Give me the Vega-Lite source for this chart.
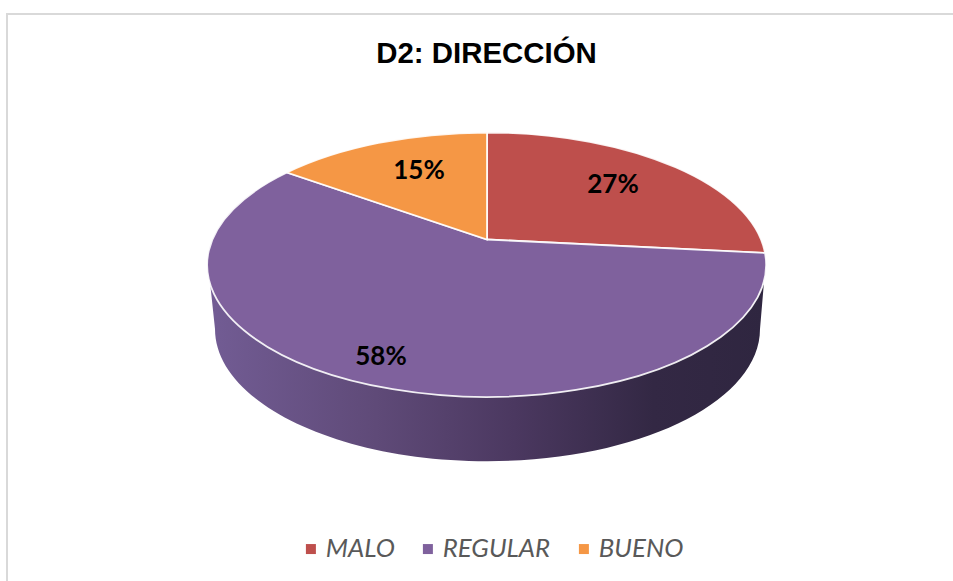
{
"$schema":"https://vega.github.io/schema/vega-lite/v6.json",
"width":953,"height":581,"autosize":"none","padding":0,"background":"white",
"config":{"view":{"stroke":null}},
"title":{"text":"D2: DIRECCIÓN","font":"Liberation Sans","fontWeight":"bold","fontSize":29.4,"color":"#000000","anchor":"middle","offset":0,"dx":10,"dy":69},
"data":{"values":[
{"category":"MALO","value":0.27},
{"category":"REGULAR","value":0.58},
{"category":"BUENO","value":0.15}
]},
"layer":[
{"data":{"values":[{"frame":"top"}]},"mark":{"type":"rule","color":"#D9D9D9","strokeWidth":2},
 "encoding":{"x":{"datum":6,"type":"quantitative","scale":{"domain":[0,953],"nice":false,"zero":false},"axis":null},"x2":{"datum":953},"y":{"datum":14,"type":"quantitative","scale":{"domain":[0,581],"reverse":true,"nice":false,"zero":false},"axis":null}}},
{"data":{"values":[{"frame":"left"}]},"mark":{"type":"rule","color":"#D9D9D9","strokeWidth":2},
 "encoding":{"x":{"datum":7,"type":"quantitative","axis":null},"y":{"datum":13,"type":"quantitative","axis":null},"y2":{"datum":581}}},
{"transform":[{"filter":"datum.category==='REGULAR'"}],
 "mark":{"type":"point","filled":true,"opacity":1,"size":4,"shape":"M-277 18L-272 65A272 132 0 0 0 273 65L277 18A279.5 132 0 0 1 -277 18Z",
  "fill":{"gradient":"linear","x1":0,"x2":1,"y1":0,"y2":0,"stops":[{"offset":0,"color":"#725C94"},{"offset":0.3,"color":"#5F4A78"},{"offset":0.55,"color":"#4B3860"},{"offset":0.8,"color":"#332844"},{"offset":1,"color":"#2F2640"}]}},
 "encoding":{"x":{"datum":487,"type":"quantitative","axis":null},"y":{"datum":264,"type":"quantitative","axis":null}}},
{"mark":{"type":"point","filled":true,"opacity":1,"size":0,"shape":"square"},
 "encoding":{
  "x":{"datum":487,"type":"quantitative","axis":null},
  "y":{"datum":264,"type":"quantitative","axis":null},
  "color":{"field":"category","type":"nominal","scale":{"domain":["MALO","REGULAR","BUENO"],"range":["#BE4F4C","#7F619D","#F59745"]},
   "legend":{"title":null,"orient":"none","legendX":298,"legendY":536,"direction":"horizontal","columns":3,"symbolType":"square","symbolSize":100,"symbolStrokeWidth":0,"labelFont":"Lato","labelFontStyle":"italic","labelFontSize":25.8,"labelColor":"#595959","labelOffset":2,"columnPadding":20,"labelLimit":200}}
 }},
{"transform":[{"filter":"datum.category==='MALO'"}],
 "mark":{"type":"point","filled":true,"opacity":1,"size":4,"stroke":"#FFFFFF","strokeWidth":1.8,"strokeOpacity":0.9,"shape":"M0 -24.5L0 -131.5A279.5 132 0 0 1 278 -11Z"},
 "encoding":{"x":{"datum":487,"type":"quantitative","axis":null},"y":{"datum":264,"type":"quantitative","axis":null},"color":{"field":"category","type":"nominal","legend":null}}},
{"transform":[{"filter":"datum.category==='REGULAR'"}],
 "mark":{"type":"point","filled":true,"opacity":1,"size":4,"stroke":"#FFFFFF","strokeWidth":1.8,"strokeOpacity":0.9,"shape":"M0 -24.5L278 -11A279.5 132 0 1 1 -200 -91.5Z"},
 "encoding":{"x":{"datum":487,"type":"quantitative","axis":null},"y":{"datum":264,"type":"quantitative","axis":null},"color":{"field":"category","type":"nominal","legend":null}}},
{"transform":[{"filter":"datum.category==='BUENO'"}],
 "mark":{"type":"point","filled":true,"opacity":1,"size":4,"stroke":"#FFFFFF","strokeWidth":1.8,"strokeOpacity":0.9,"shape":"M0 -24.5L-200 -91.5A279.5 132 0 0 1 0 -131.5Z"},
 "encoding":{"x":{"datum":487,"type":"quantitative","axis":null},"y":{"datum":264,"type":"quantitative","axis":null},"color":{"field":"category","type":"nominal","legend":null}}},
{"transform":[{"filter":"datum.category==='MALO'"}],"mark":{"type":"text","font":"Lato","fontWeight":"bold","fontSize":26,"color":"#000000","align":"center","baseline":"middle"},
 "encoding":{"x":{"datum":613,"type":"quantitative","axis":null},"y":{"datum":185,"type":"quantitative","axis":null},"text":{"field":"value","type":"quantitative","format":".0%"}}},
{"transform":[{"filter":"datum.category==='REGULAR'"}],"mark":{"type":"text","font":"Lato","fontWeight":"bold","fontSize":26,"color":"#000000","align":"center","baseline":"middle"},
 "encoding":{"x":{"datum":381,"type":"quantitative","axis":null},"y":{"datum":356.5,"type":"quantitative","axis":null},"text":{"field":"value","type":"quantitative","format":".0%"}}},
{"transform":[{"filter":"datum.category==='BUENO'"}],"mark":{"type":"text","font":"Lato","fontWeight":"bold","fontSize":26,"color":"#000000","align":"center","baseline":"middle"},
 "encoding":{"x":{"datum":419,"type":"quantitative","axis":null},"y":{"datum":170.5,"type":"quantitative","axis":null},"text":{"field":"value","type":"quantitative","format":".0%"}}}
]
}
